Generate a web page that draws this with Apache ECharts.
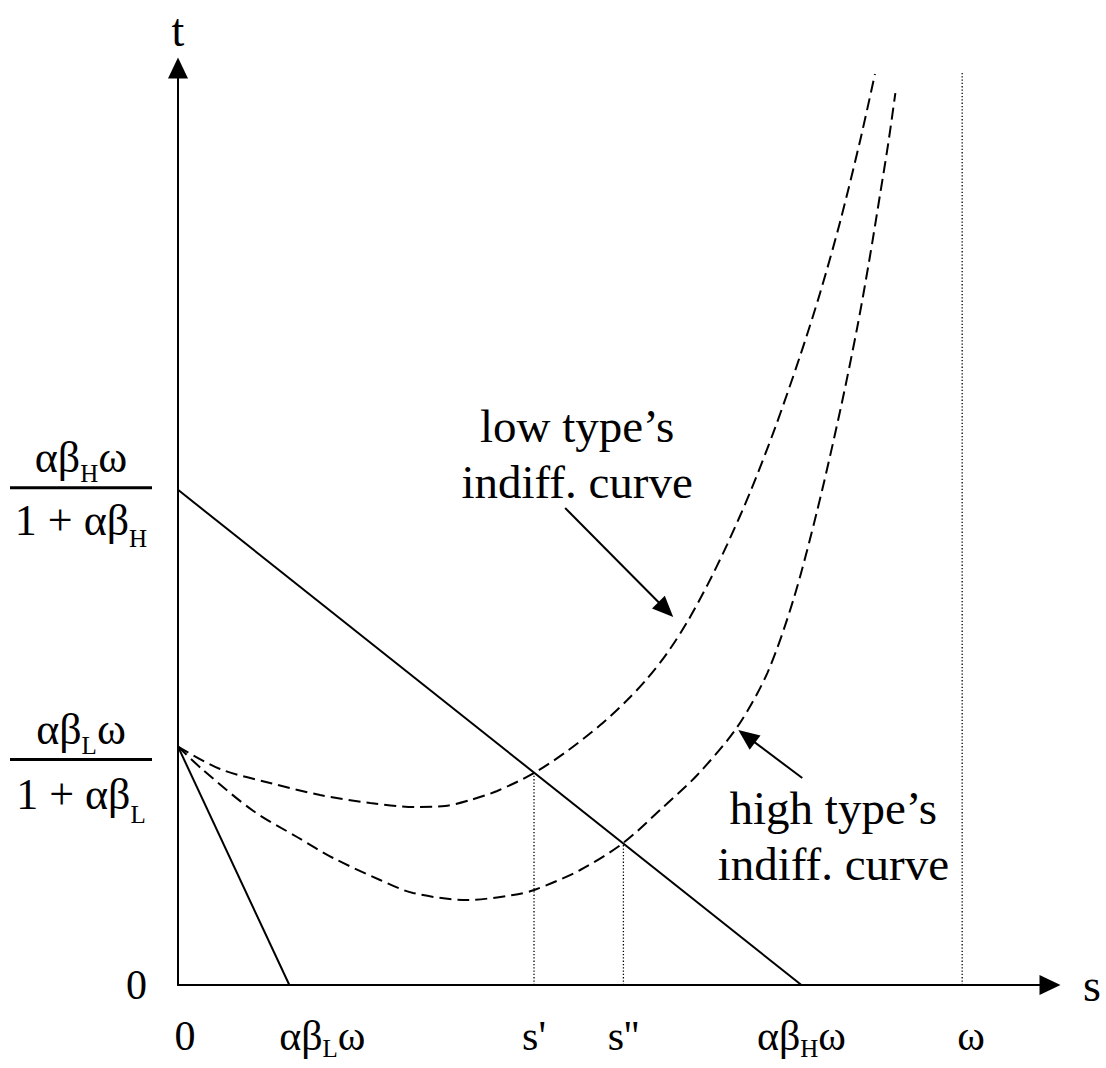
<!DOCTYPE html>
<html><head><meta charset="utf-8">
<script src="https://cdn.jsdelivr.net/npm/echarts@6/dist/echarts.min.js"></script>
<style>html,body{margin:0;padding:0;background:#fff}#c{width:1106px;height:1068px}</style>
</head><body><div id="c"></div>
<script>
const FONT = '"Liberation Serif", "Times New Roman", serif';

// key values (x in units where omega = 10, t in arbitrary units)
const omega = 10;
const aBLw = 1.42;      // alpha*beta_L*omega
const aBHw = 7.95;      // alpha*beta_H*omega
const tL = 2.6;         // alpha*beta_L*omega/(1+alpha*beta_L)
const tH = 5.4;         // alpha*beta_H*omega/(1+alpha*beta_H)
const sPrime = 4.54;
const sDouble = 5.68;
const xMax = 11.12;
const yMax = 10;
const omegaTop = 9.96;

const xTickValues = [0, aBLw, sPrime, sDouble, aBHw, omega];
const xTickLabels = ['{p0|}{n|0}', '{p1|}{n|αβ}{s|L}{n|ω}', "{n|s'}", "{n|s''}", '{n|αβ}{s|H}{n|ω}', '{p2|}{n|ω}'];
const yTickValues = [0, tL, tH];
const yTickLabels = [
  '{z|0}',
  '{sp|}\n{n|αβ}{s|L}{n|ω}\n{bar|}\n{dl|1 + αβ}{dls|L}',
  '{n|αβ}{s|H}{n|ω}\n{bar|}\n{d|1 + αβ}{ds|H}'
];

// low type's indifference curve
const lowCurveX = [0, 0.536, 1.174, 1.812, 2.450, 3.024, 3.406, 3.725, 4.070, 4.542, 4.961, 5.381, 5.726, 5.981, 6.236, 6.491, 6.746, 7.001, 7.295, 7.613, 7.932, 8.187, 8.442, 8.697, 8.888];
const lowCurveT = [2.6, 2.355, 2.203, 2.072, 1.985, 1.941, 1.952, 2.017, 2.116, 2.312, 2.550, 2.832, 3.105, 3.339, 3.617, 3.955, 4.353, 4.800, 5.371, 6.073, 6.857, 7.544, 8.318, 9.202, 9.935];
// high type's indifference curve
const highCurveX = [0, 0.319, 0.957, 1.518, 1.978, 2.577, 2.998, 3.687, 4.274, 4.542, 5.129, 5.677, 6.188, 6.622, 7.132, 7.515, 7.846, 8.153, 8.446, 8.663, 8.816, 8.956, 9.058, 9.148];
const highCurveT = [2.6, 2.345, 1.900, 1.614, 1.385, 1.145, 1.003, 0.927, 0.981, 1.036, 1.254, 1.549, 1.941, 2.290, 2.814, 3.402, 4.198, 5.180, 6.270, 7.176, 7.906, 8.637, 9.182, 9.727];

const annotationTexts = ['low type’s\nindiff. curve', 'high type’s\nindiff. curve'];
const annotationAt = [[5.09, 5.79], [8.357, 1.625]];
const arrowFrom = [[4.937, 5.202], [7.961, 2.257]];
const arrowTo = [[6.315, 4.013], [7.145, 2.781]];

function budgetT(s) { return tH * (1 - s / aBHw); }

const chart = echarts.init(document.getElementById('c'), null, {renderer: 'svg'});

const base = {fontFamily: FONT, color: '#000'};
const xRich = {
  n: Object.assign({fontSize: 42, lineHeight: 50, verticalAlign: 'middle'}, base),
  s: Object.assign({fontSize: 25, lineHeight: 50, verticalAlign: 'bottom'}, base),
  p0: {width: 14, height: 1},
  p1: {width: 66, height: 1},
  p2: {width: 18, height: 1}
};
const yRich = {
  z: Object.assign({fontSize: 42, lineHeight: 44, padding: [0, 5, 0, 0]}, base),
  sp: {lineHeight: 34, height: 1, width: 1, align: 'center'},
  n: Object.assign({fontSize: 44, lineHeight: 58, verticalAlign: 'middle', align: 'center'}, base),
  s: Object.assign({fontSize: 25, lineHeight: 58, verticalAlign: 'bottom', align: 'center'}, base),
  bar: {width: 142, height: 3, lineHeight: 3, backgroundColor: '#000', align: 'center'},
  d: Object.assign({fontSize: 44, lineHeight: 62, verticalAlign: 'middle', align: 'center'}, base),
  ds: Object.assign({fontSize: 25, lineHeight: 62, verticalAlign: 'bottom', align: 'center'}, base),
  dl: Object.assign({fontSize: 44, lineHeight: 66, verticalAlign: 'middle', align: 'center'}, base),
  dls: Object.assign({fontSize: 25, lineHeight: 66, verticalAlign: 'bottom', align: 'center'}, base)
};

function nearestIndex(arr, v) {
  let best = 0;
  for (let i = 1; i < arr.length; i++) if (Math.abs(arr[i] - v) < Math.abs(arr[best] - v)) best = i;
  return best;
}

function arrowItem(params, api) {
  const p0 = api.coord([api.value(0), api.value(1)]);
  const p1 = api.coord([api.value(2), api.value(3)]);
  const dx = p1[0] - p0[0], dy = p1[1] - p0[1];
  const len = Math.sqrt(dx * dx + dy * dy);
  const ux = dx / len, uy = dy / len;
  const L = 21, W = 9;
  const b = [p1[0] - ux * L, p1[1] - uy * L];
  return {
    type: 'group',
    children: [
      {type: 'line', shape: {x1: p0[0], y1: p0[1], x2: b[0] + ux * 2, y2: b[1] + uy * 2}, style: {stroke: '#000', lineWidth: 2}},
      {type: 'polygon', shape: {points: [p1, [b[0] - uy * W, b[1] + ux * W], [b[0] + uy * W, b[1] - ux * W]]}, style: {fill: '#000'}}
    ]
  };
}

const solid = {color: '#000', width: 2};
const dashed = {color: '#000', width: 2, type: [12, 6]};
const dotted = {color: '#000', width: 1.3, type: [1.3, 2]};

chart.setOption({
  animation: false,
  grid: {left: 178, right: 56, top: 68, bottom: 83, outerBoundsMode: 'none'},
  xAxis: {
    type: 'value', min: 0, max: xMax,
    name: 's', nameLocation: 'end', nameGap: 42,
    nameTextStyle: {fontFamily: FONT, fontSize: 46, color: '#000', align: 'center', verticalAlign: 'middle'},
    axisLine: {show: true, onZero: false, symbol: ['none', 'triangle'], symbolSize: [20, 21], lineStyle: {color: '#000', width: 2}},
    axisTick: {show: false},
    splitLine: {show: false},
    axisLabel: {
      customValues: xTickValues, margin: 26, rich: xRich,
      formatter: v => xTickLabels[nearestIndex(xTickValues, v)]
    }
  },
  yAxis: {
    type: 'value', min: 0, max: yMax,
    name: 't', nameLocation: 'end', nameGap: 38,
    nameTextStyle: {fontFamily: FONT, fontSize: 46, color: '#000', align: 'center', verticalAlign: 'middle'},
    axisLine: {show: true, onZero: false, symbol: ['none', 'triangle'], symbolSize: [20, 21], lineStyle: {color: '#000', width: 2}},
    axisTick: {show: false},
    splitLine: {show: false},
    axisLabel: {
      customValues: yTickValues, margin: 26, align: 'right', rich: yRich,
      formatter: v => yTickLabels[nearestIndex(yTickValues, v)]
    }
  },
  series: [
    {type: 'line', silent: true, symbol: 'none', lineStyle: solid, data: [[0, tL], [aBLw, 0]]},
    {type: 'line', silent: true, symbol: 'none', lineStyle: solid, data: [[0, tH], [aBHw, 0]]},
    {type: 'line', silent: true, symbol: 'none', smooth: 0.3, lineStyle: dashed,
      data: lowCurveX.map((x, i) => [x, lowCurveT[i]])},
    {type: 'line', silent: true, symbol: 'none', smooth: 0.3, lineStyle: dashed,
      data: highCurveX.map((x, i) => [x, highCurveT[i]])},
    {type: 'line', silent: true, symbol: 'none', lineStyle: dotted, data: [[sPrime, 0], [sPrime, budgetT(sPrime)]]},
    {type: 'line', silent: true, symbol: 'none', lineStyle: dotted, data: [[sDouble, 0], [sDouble, budgetT(sDouble)]]},
    {type: 'line', silent: true, symbol: 'none', lineStyle: dotted, data: [[omega, 0], [omega, omegaTop]]},
    {type: 'custom', silent: true, renderItem: arrowItem, encode: {x: [0, 2], y: [1, 3]},
      data: arrowFrom.map((f, i) => [f[0], f[1], arrowTo[i][0], arrowTo[i][1]])},
    {type: 'scatter', silent: true, symbolSize: 0, itemStyle: {opacity: 1, color: '#000'},
      data: annotationAt.map(p => p),
      label: {show: true, position: 'inside', formatter: p => annotationTexts[p.dataIndex], opacity: 1,
        fontFamily: FONT, fontSize: 47, color: '#000', lineHeight: 56, align: 'center',
        textBorderWidth: 0}}
  ]
});
</script></body></html>
